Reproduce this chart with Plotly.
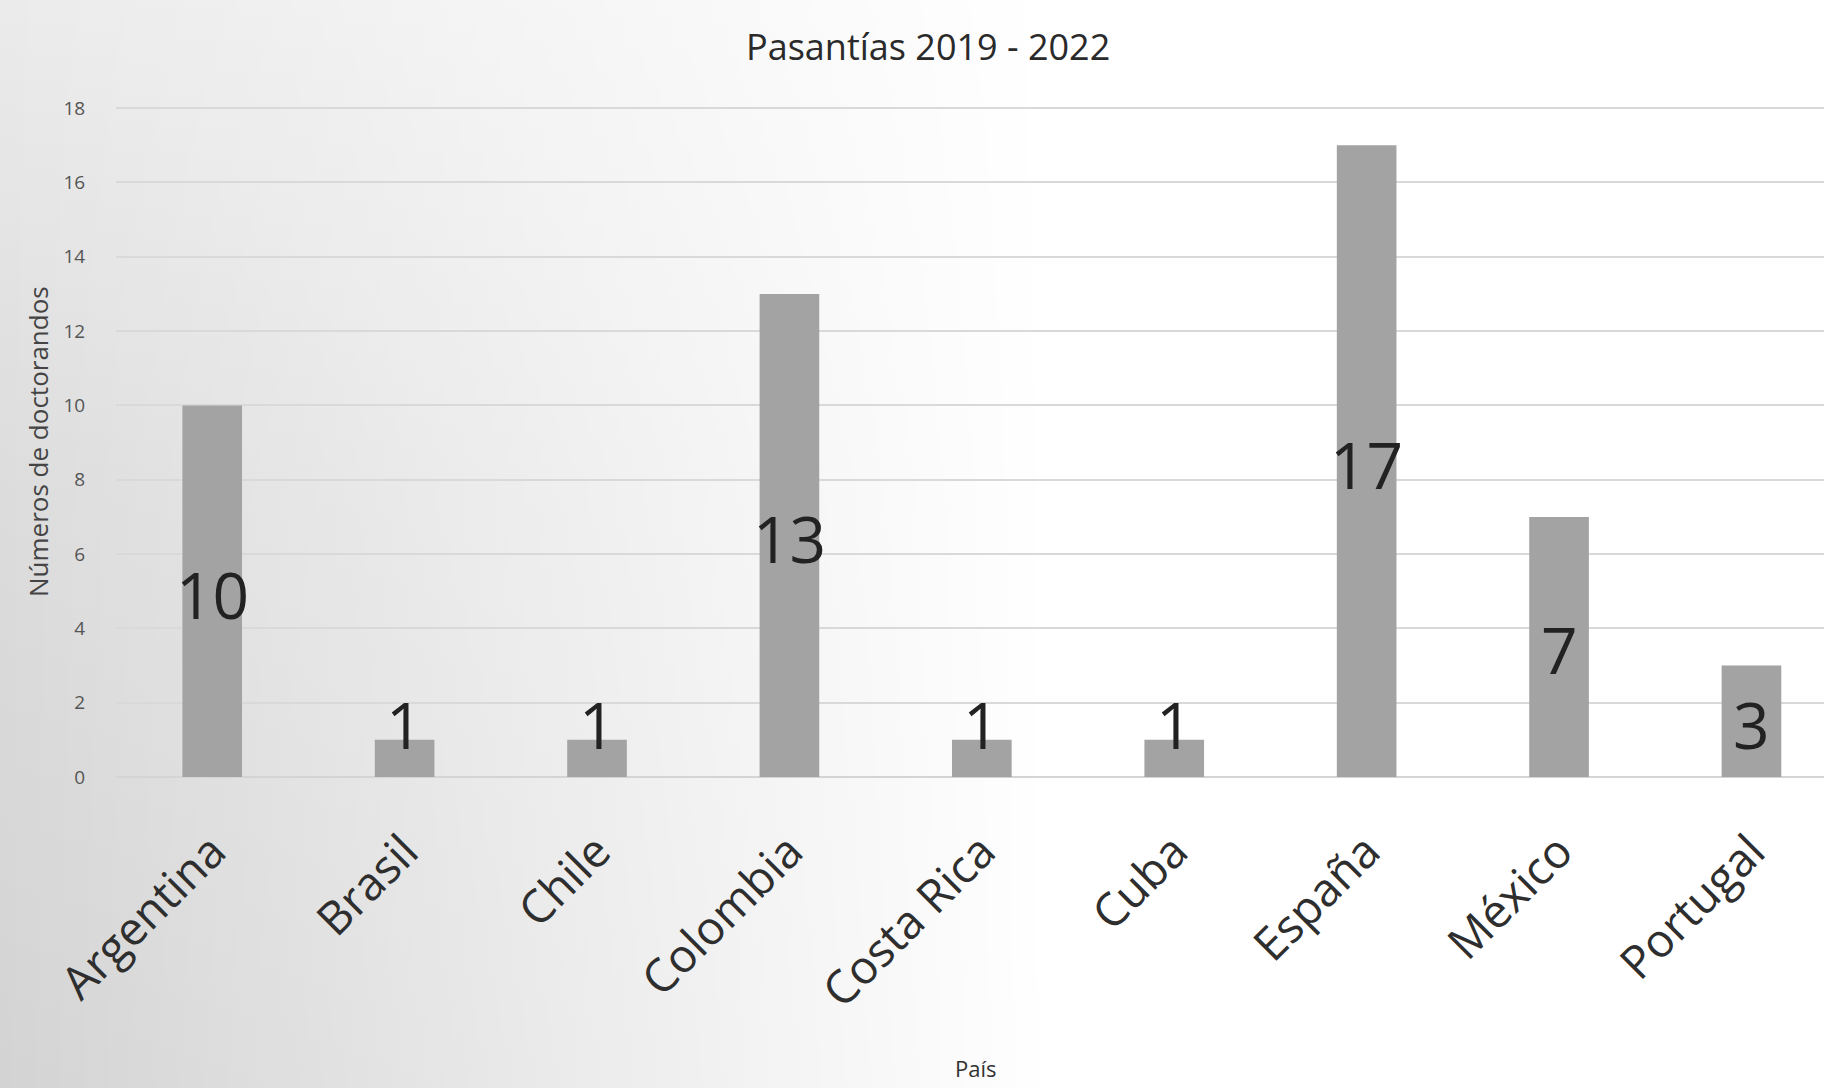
import base64
import plotly.graph_objects as go

# ---- data ----
paises = ["Argentina", "Brasil", "Chile", "Colombia", "Costa Rica", "Cuba", "España", "México", "Portugal"]
doctorandos = [10, 1, 1, 13, 1, 1, 17, 7, 3]
y_ticks = [0, 2, 4, 6, 8, 10, 12, 14, 16, 18]

titulo = "Pasantías 2019 - 2022"
titulo_x = "País"
titulo_y = "Números de doctorandos"

FONT = "Open Sans, Noto Sans, DejaVu Sans, sans-serif"
W, H = 1824, 1088
ML, MR, MT, MB = 116, 0, 107, 311

# background gradient as an inline svg image
svg = f'''<svg xmlns="http://www.w3.org/2000/svg" width="{W}" height="{H}" viewBox="0 0 {W} {H}">
<defs>
<linearGradient id="h" x1="0" y1="0" x2="1050" y2="0" gradientUnits="userSpaceOnUse">
<stop offset="0" stop-color="#ffffff"/><stop offset="1" stop-color="#000000"/></linearGradient>
<mask id="m"><rect x="0" y="0" width="{W}" height="{H}" fill="url(#h)"/></mask>
<linearGradient id="v" x1="0" y1="0" x2="0" y2="{H}" gradientUnits="userSpaceOnUse">
<stop offset="0" stop-color="#ebebeb"/><stop offset="0.45" stop-color="#dcdcdc"/><stop offset="1" stop-color="#d3d3d3"/></linearGradient>
</defs>
<rect x="0" y="0" width="{W}" height="{H}" fill="#ffffff"/>
<rect x="0" y="0" width="{W}" height="{H}" fill="url(#v)" mask="url(#m)"/>
</svg>'''
bg_src = "data:image/svg+xml;base64," + base64.b64encode(svg.encode()).decode()

pw = W - ML - MR
ph = H - MT - MB

fig = go.Figure()
fig.add_trace(go.Bar(
    x=paises, y=doctorandos,
    marker=dict(color="#a3a3a3", line=dict(width=0)),
    width=0.31, hoverinfo="x+y", showlegend=False,
))

# data labels, centred in each bar (kept above the axis for short bars)
label_annotations = [
    dict(x=p, y=max(v / 2, 1.5), xref="x", yref="y", text=str(v), showarrow=False,
         xanchor="center", yanchor="middle", yshift=-3,
         font=dict(family=FONT, size=64, color="#222222"))
    for p, v in zip(paises, doctorandos)
]

fig.update_layout(
    width=W, height=H,
    margin=dict(l=ML, r=MR, t=MT, b=MB, autoexpand=False),
    paper_bgcolor="rgba(0,0,0,0)", plot_bgcolor="rgba(0,0,0,0)",
    font=dict(family=FONT, color="#333333"),
    images=[dict(source=bg_src, xref="paper", yref="paper",
                 x=-ML / pw, y=1 + MT / ph, sizex=W / pw, sizey=H / ph,
                 xanchor="left", yanchor="top", sizing="stretch", layer="below")],
    xaxis=dict(
        range=[-0.5, 8.377], showgrid=False, zeroline=False, showline=False,
        tickangle=-45, ticks="outside", ticklen=28, tickcolor="rgba(0,0,0,0)",
        tickfont=dict(family=FONT, size=46, color="#2e2e2e"),
        fixedrange=True,
    ),
    yaxis=dict(
        range=[0, 18.03], tickvals=y_ticks, showgrid=True, gridcolor="#d9d9d9", gridwidth=2,
        zeroline=True, zerolinecolor="#d4d4d4", zerolinewidth=2, showline=False,
        ticks="outside", ticklen=26, tickcolor="rgba(0,0,0,0)",
        tickfont=dict(family=FONT, size=19, color="#555555"),
        fixedrange=True,
    ),
    annotations=label_annotations + [
        dict(text=titulo, xref="paper", yref="paper",
             x=(928 - ML) / pw, y=1 + (MT - 47) / ph, xanchor="center", yanchor="middle",
             showarrow=False, font=dict(family=FONT, size=36, color="#2a2a2a")),
        dict(text=titulo_x, xref="paper", yref="paper",
             x=(976 - ML) / pw, y=-(1068 - (H - MB)) / ph, xanchor="center", yanchor="middle",
             showarrow=False, font=dict(family=FONT, size=22, color="#333333")),
        dict(text=titulo_y, xref="paper", yref="paper", textangle=-90,
             x=-(ML - 38) / pw, y=0.5, xanchor="center", yanchor="middle",
             showarrow=False, font=dict(family=FONT, size=26, color="#444444")),
    ],
)

fig.write_html("out.html", config={"displayModeBar": False},
               post_script="document.body.style.margin='0';document.body.style.overflow='hidden';")
